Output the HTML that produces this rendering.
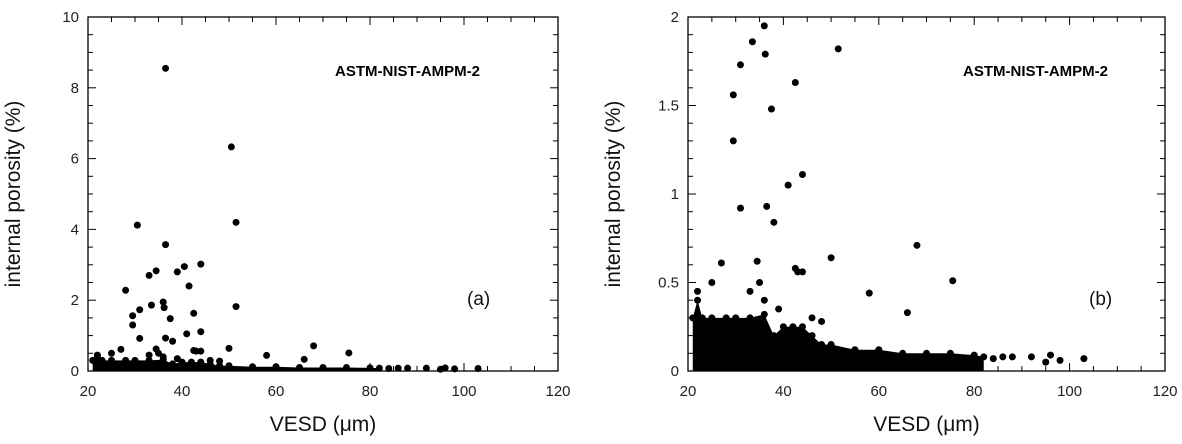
<!DOCTYPE html>
<html><head><meta charset="utf-8"><style>
html,body{margin:0;padding:0;background:#fff;}
svg{display:block;font-family:"Liberation Sans",sans-serif;}
</style></head><body>
<svg id="c" width="1182" height="444"></svg>
<script>
const xTicks=[20,40,60,80,100,120];
const yTicksA=[0,2,4,6,8,10];
const yTicksB=[0,0.5,1,1.5,2];
const yTickLabB=["0","0.5","1","1.5","2"];
const outX=[36.5,50.5,51.5,30.5,36.5,44,40.5,39,34.5,33,28,41.5,36,36.2,33.5,31,29.5,51.5,42.5,37.5,29.5,44,41,31,36.5,38,68,50,27,34.5,75.5,58,66,42.5,44,43,22,35,33,36,25,39,46,48];
const outY=[8.55,6.33,4.2,4.12,3.57,3.02,2.95,2.8,2.83,2.7,2.28,2.4,1.95,1.79,1.86,1.73,1.56,1.82,1.63,1.48,1.3,1.11,1.05,0.92,0.93,0.84,0.71,0.64,0.61,0.62,0.51,0.44,0.33,0.58,0.56,0.56,0.45,0.5,0.45,0.4,0.5,0.35,0.3,0.28];
const bandX=[21,22,23,25,28,30,33,36,38,40,42,44,46,48,50,55,60,65,70,75,80,82];
const bandY=[0.3,0.4,0.3,0.3,0.3,0.3,0.3,0.32,0.2,0.25,0.25,0.25,0.2,0.15,0.15,0.12,0.12,0.1,0.1,0.1,0.09,0.08];
const tailX=[84,86,88,92,95,96,98,103];
const tailY=[0.07,0.08,0.08,0.08,0.05,0.09,0.06,0.07];
const NS="http://www.w3.org/2000/svg";
const svg=document.getElementById('c');
function mk(t,a,p){const e=document.createElementNS(NS,t);for(const k in a)e.setAttribute(k,a[k]);(p||svg).appendChild(e);return e;}
function panel(x0,x1,y0,y1,ymax,yTicks,yLabs,yMinor,tag,annX,labX,name){
  const g=mk('g',{});
  
  
  const sx=v=>x0+(v-20)/100*(x1-x0);
  const sy=v=>y1-v/ymax*(y1-y0);
  // band
  let pts=[sx(bandX[0])+','+sy(0)];
  for(let i=0;i<bandX.length;i++)pts.push(sx(bandX[i])+','+sy(bandY[i]));
  pts.push(sx(bandX[bandX.length-1])+','+sy(0));
  const band=mk('polygon',{points:pts.join(' '),fill:'#000'},g);
  
  
  for(let i=0;i<bandX.length;i++){const c=mk('circle',{cx:sx(bandX[i]),cy:sy(bandY[i]),r:3.5,fill:'#000'},g);
    
    }
  for(let i=0;i<tailX.length;i++){const c=mk('circle',{cx:sx(tailX[i]),cy:sy(tailY[i]),r:3.5,fill:'#000'},g);
    
    }
  for(let i=0;i<outX.length;i++){if(outY[i]>ymax)continue;const c=mk('circle',{cx:sx(outX[i]),cy:sy(outY[i]),r:3.5,fill:'#000'},g);
    
    }
  const fr=mk('rect',{x:x0,y:y0,width:x1-x0,height:y1-y0,fill:'none',stroke:'#000','stroke-width':1.3},g);
  
  
  for(let v=20;v<=120;v+=5){const X=sx(v),L=(v%20==0)?8:5;
    mk('line',{x1:X,y1:y1,x2:X,y2:y1-L,stroke:'#000'},g);mk('line',{x1:X,y1:y0,x2:X,y2:y0+L,stroke:'#000'},g);}
  for(const v of xTicks){const t=mk('text',{x:sx(v),y:y1+25,'font-size':15,'text-anchor':'middle',fill:'#222'},g);t.textContent=v;
    
    }
  for(let v=0;v<=ymax+1e-9;v+=yMinor){const Y=sy(v);const maj=yTicks.some(t=>Math.abs(t-v)<1e-6);const L=maj?8:5;
    mk('line',{x1:x0,y1:Y,x2:x0+L,y2:Y,stroke:'#000'},g);mk('line',{x1:x1,y1:Y,x2:x1-L,y2:Y,stroke:'#000'},g);}
  yTicks.forEach((v,i)=>{const t=mk('text',{x:x0-9,y:sy(v)+5,'font-size':15,'text-anchor':'end',fill:'#222'},g);t.textContent=yLabs[i];
    
    });
  const xt=mk('text',{x:(x0+x1)/2,y:431,'font-size':21,'text-anchor':'middle',fill:'#111'},g);xt.textContent='VESD (\u03bcm)';
  
  
  const yt=mk('text',{x:0,y:0,'font-size':21,'text-anchor':'middle',fill:'#111',transform:`translate(${x0-68},${(y0+y1)/2}) rotate(-90)`},g);yt.textContent='internal porosity (%)';
  
  
  const an=mk('text',{x:annX,y:76,'font-size':15,'font-weight':'bold',fill:'#000'},g);an.textContent='ASTM-NIST-AMPM-2';
  
  
  const tg=mk('text',{x:labX,y:305,'font-size':19,fill:'#111'},g);tg.textContent=tag;
  
  
}
panel(88,558,17,371,10,yTicksA,yTicksA.map(String),0.5,'(a)',335,467,'panel-a');
panel(688,1165,17,371,2,yTicksB,yTickLabB,0.1,'(b)',963,1089,'panel-b');
</script>
</body></html>
